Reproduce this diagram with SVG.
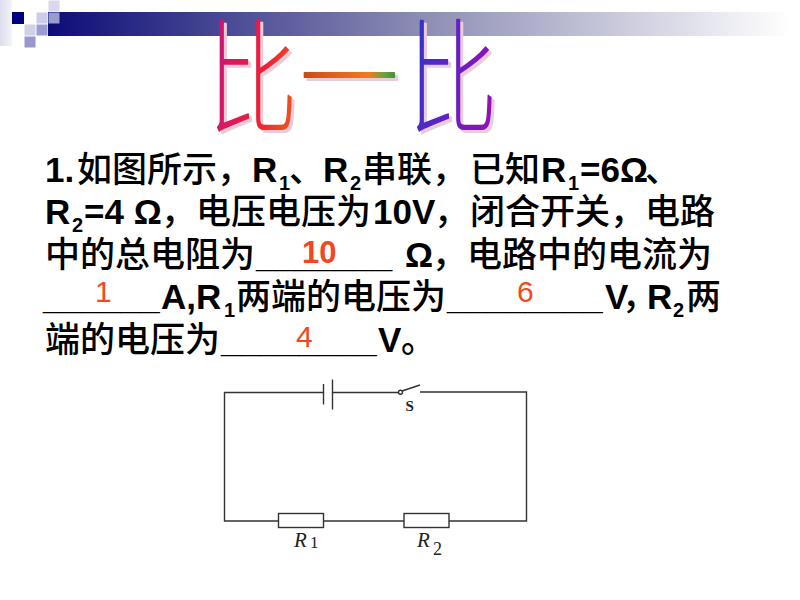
<svg xmlns="http://www.w3.org/2000/svg" width="800" height="600" viewBox="0 0 800 600">
<defs>
<linearGradient id="bar" x1="0" y1="0" x2="1" y2="0">
<stop offset="0" stop-color="#0c0c78"/>
<stop offset="0.5" stop-color="#8c8cb4"/>
<stop offset="1" stop-color="#ffffff"/>
</linearGradient>
<linearGradient id="strip" x1="0" y1="0" x2="1" y2="0">
<stop offset="0" stop-color="#dcdcee"/>
<stop offset="1" stop-color="#f4f4fa"/>
</linearGradient>
<linearGradient id="g1" x1="0" y1="0" x2="1" y2="0.3">
<stop offset="0" stop-color="#b8148e"/>
<stop offset="0.45" stop-color="#e0185a"/>
<stop offset="0.75" stop-color="#ec2234"/>
<stop offset="1" stop-color="#f04a20"/>
</linearGradient>
<linearGradient id="g2" x1="0" y1="0" x2="1" y2="0">
<stop offset="0" stop-color="#c84818"/>
<stop offset="0.7" stop-color="#f07a20"/>
<stop offset="0.85" stop-color="#70a040"/>
<stop offset="1" stop-color="#2e8e3a"/>
</linearGradient>
<linearGradient id="g3" x1="0" y1="0" x2="1" y2="0.3">
<stop offset="0" stop-color="#1c3cc8"/>
<stop offset="0.5" stop-color="#5a24c8"/>
<stop offset="1" stop-color="#9010b8"/>
</linearGradient>
<style>
.t{font-family:"Liberation Sans","Noto Sans CJK SC",sans-serif;font-size:35px;font-weight:500;fill:#000}
.b{font-weight:bold}
.sub{font-size:20px;font-weight:bold}
.ans{font-family:"Liberation Sans",Arial,sans-serif;fill:#f04820}
.ttl{font-family:"Noto Sans CJK SC",sans-serif;font-size:124px;font-weight:100;text-anchor:middle;stroke-width:2;stroke-linejoin:round}
.sh{fill:#e8ccd8;stroke:#e8ccd8}
.w{stroke:#333;stroke-width:1.4;fill:none}
.lbl{font-family:"Liberation Serif",serif;fill:#222}
</style>
</defs>

<g id="decoration">
<rect x="0" y="0" width="12" height="46" fill="url(#strip)"/>
<rect x="48" y="12" width="742" height="24" fill="url(#bar)"/>
<rect x="12" y="12" width="12" height="12" fill="#00007e"/>
<rect x="36.5" y="12.5" width="11" height="11" fill="#ccccea"/>
<rect x="48.5" y="0.5" width="11" height="11" fill="#d8d8ee"/>
<rect x="48.5" y="12.5" width="11" height="11" fill="#9a9acf"/>
<rect x="24.5" y="24.5" width="11" height="11" fill="#d0d0ea"/>
<rect x="36.5" y="24.5" width="11" height="11" fill="#9c9cd2"/>
<rect x="24.5" y="36.5" width="11" height="11" fill="#9898cc"/>
</g>

<g id="title">
<g transform="translate(255,3) scale(0.73,1)"><text class="ttl sh" x="0" y="123">比</text></g>
<g transform="translate(352,3) scale(0.8,1)"><text class="ttl sh" x="0" y="123">一</text></g>
<g transform="translate(455,3) scale(0.73,1)"><text class="ttl sh" x="0" y="123">比</text></g>
<g transform="translate(252,0) scale(0.73,1)"><text class="ttl" x="0" y="123" fill="url(#g1)" stroke="url(#g1)">比</text></g>
<g transform="translate(349,0) scale(0.8,1)"><text class="ttl" x="0" y="123" fill="url(#g2)" stroke="url(#g2)">一</text></g>
<g transform="translate(452,0) scale(0.73,1)"><text class="ttl" x="0" y="123" fill="url(#g3)" stroke="url(#g3)">比</text></g>
</g>

<g id="question">
<text class="t" y="182"><tspan class="b" x="45">1.</tspan><tspan x="77">如图所示，</tspan><tspan class="b" x="252">R</tspan><tspan class="sub" x="279" dy="8">1</tspan><tspan x="289" dy="-8">、</tspan><tspan class="b" x="323">R</tspan><tspan class="sub" x="350" dy="8">2</tspan><tspan x="362" dy="-8">串联，</tspan><tspan x="470">已知</tspan><tspan class="b" x="541">R</tspan><tspan class="sub" x="568" dy="8">1</tspan><tspan class="b" x="580" dy="-8">=6Ω</tspan><tspan x="645">、</tspan></text>
<text class="t" y="224"><tspan class="b" x="45">R</tspan><tspan class="sub" x="72" dy="8">2</tspan><tspan class="b" x="84" dy="-8">=4 Ω</tspan><tspan x="161">，</tspan><tspan x="196">电压电压为</tspan><tspan class="b" x="373">10V</tspan><tspan x="434">，</tspan><tspan x="470">闭合开关，电路</tspan></text>
<text class="t" y="267"><tspan x="45">中的总电阻为</tspan><tspan class="b" x="256">_______</tspan><tspan class="b" x="405">Ω</tspan><tspan x="432">，</tspan><tspan x="467">电路中的电流为</tspan></text>
<text class="t" y="309"><tspan class="b" x="43">______</tspan><tspan class="b" x="161">A,R</tspan><tspan class="sub" x="224" dy="8">1</tspan><tspan x="236" dy="-8">两端的电压为</tspan><tspan class="b" x="447">________</tspan><tspan class="b" x="605">V</tspan><tspan x="622">，</tspan><tspan class="b" x="647">R</tspan><tspan class="sub" x="673" dy="8">2</tspan><tspan x="686" dy="-8">两</tspan></text>
<text class="t" y="352"><tspan x="45">端的电压为</tspan><tspan class="b" x="221">________</tspan><tspan class="b" x="378">V</tspan><tspan x="401">。</tspan></text>
<text class="ans" x="302" y="263" font-size="31" font-weight="bold">10</text>
<text class="ans" x="95" y="302" font-size="30">1</text>
<text class="ans" x="517" y="302" font-size="30">6</text>
<text class="ans" x="296" y="347" font-size="30">4</text>
</g>

<g id="circuit">
<g id="wires" class="w">
<polyline points="323.5,392.5 224.5,392.5 224.5,521 278,521"/>
<line x1="332.5" y1="392.5" x2="398.5" y2="392.5"/>
<polyline points="420,392 526.5,392 526.5,521 449,521"/>
<line x1="323" y1="521" x2="404" y2="521"/>
</g>
<g id="battery" class="w">
<line x1="323.5" y1="384" x2="323.5" y2="404.5"/>
<line x1="332.5" y1="379.5" x2="332.5" y2="409.5"/>
</g>
<g id="switch">
<circle cx="400.5" cy="392.3" r="2" fill="none" stroke="#333" stroke-width="1.4"/>
<line x1="402" y1="391" x2="420" y2="385" stroke="#333" stroke-width="1.5"/>
<text class="lbl" x="405.5" y="411" font-size="15" font-weight="bold">S</text>
</g>
<g id="R1">
<rect class="w" x="278.5" y="513.5" width="45" height="14" fill="#fff"/>
<text class="lbl" x="294" y="547" font-size="21" font-style="italic">R</text>
<text class="lbl" x="310" y="548" font-size="17">1</text>
</g>
<g id="R2">
<rect class="w" x="404" y="513.5" width="45" height="14" fill="#fff"/>
<text class="lbl" x="417" y="547" font-size="21" font-style="italic">R</text>
<text class="lbl" x="433" y="555" font-size="18">2</text>
</g>
</g>
</svg>
